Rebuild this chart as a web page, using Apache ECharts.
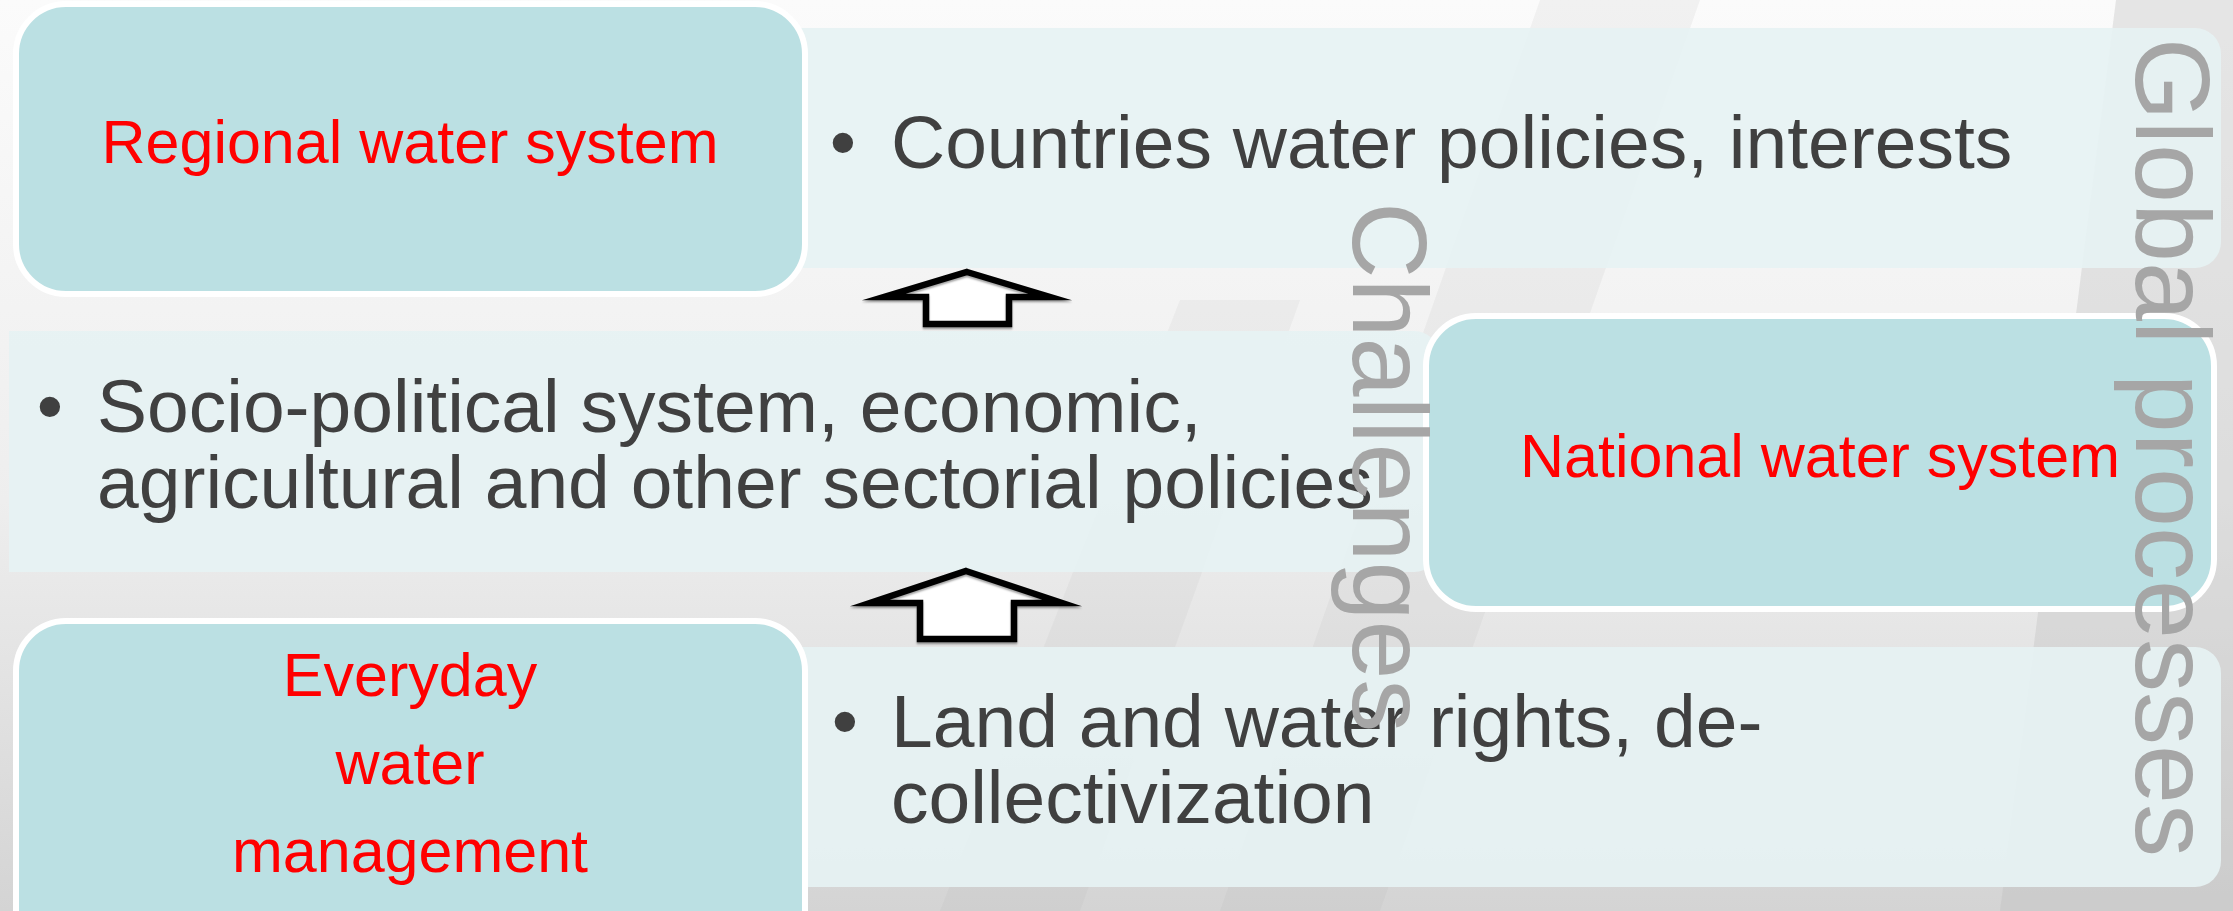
<!DOCTYPE html>
<html>
<head>
<meta charset="utf-8">
<style>
html,body{margin:0;padding:0;background:#fff}
#main{width:2233px;height:911px}
</style>
<script src="https://cdn.jsdelivr.net/npm/echarts@6/dist/echarts.min.js"></script>
</head>
<body>
<div id="main"></div>
<script>
// diagram content
var levelTitles = ['Regional water system', 'National water system', 'Everyday\nwater\nmanagement'];
var levelPoints = ['Countries water policies, interests',
	'Socio-political system, economic,\nagricultural and other sectorial policies',
	'Land and water rights, de-\ncollectivization'];
var sideLabels = ['Challenges', 'Global processes'];

var FONT = '"Liberation Sans", Arial, sans-serif';
var darkFill = '#bbe0e3';
var lightFill = '#e6f2f3';
var pointColor = '#404040';
var titleColor = '#ff0000';
var sideColor = '#a6a6a6';

// box layout: [x, y, w, h]
var lightBoxes = [[700, 28, 1521, 240], [9, 331, 1431, 241], [700, 647, 1521, 240]];
var darkBoxes = [[16, 4, 789, 290], [1426, 316, 788, 293], [16, 621, 789, 340]];
var titlePos = [[410, 146, 88], [1820, 460, 88], [410, 767, 88]];
var pointPos = [[891, 147, 843], [97, 449, 50], [891, 764, 845]];
var bulletY = [147, 411, 726];
var arrows = [
	[[967,272],[1050,297],[1009,297],[1009,324],[926,324],[926,297],[884,297]],
	[[966,571],[1062,603],[1014,603],[1014,639],[920,639],[920,603],[870,603]]
];

var chart = echarts.init(document.getElementById('main'));
var els = [];

// background
els.push({type:'rect', shape:{x:0,y:0,width:2233,height:911}, silent:true,
	style:{fill:new echarts.graphic.LinearGradient(0,0,0,1,[{offset:0,color:'#fbfbfb'},{offset:0.55,color:'#eeeeee'},{offset:1,color:'#d4d4d4'}])}});
els.push({type:'polygon', shape:{points:[[2116,0],[2233,0],[2233,911],[2000,911]]}, silent:true,
	style:{fill:'rgba(190,190,190,0.35)'}});
els.push({type:'polygon', shape:{points:[[1540,0],[1700,0],[1380,911],[1220,911]]}, silent:true,
	style:{fill:'rgba(170,170,170,0.12)'}});
els.push({type:'polygon', shape:{points:[[1180,300],[1300,300],[1080,911],[940,911]]}, silent:true,
	style:{fill:'rgba(170,170,170,0.10)'}});

// light boxes
$each(lightBoxes, function(i, b){
	els.push({type:'rect', shape:{x:b[0],y:b[1],width:b[2],height:b[3],r:[0,26,26,0]}, silent:true,
		style:{fill:lightFill, opacity:0.93}});
});
// dark boxes
$each(darkBoxes, function(i, b){
	els.push({type:'rect', shape:{x:b[0],y:b[1],width:b[2],height:b[3],r:50}, silent:true,
		style:{fill:darkFill, stroke:'#ffffff', lineWidth:6}});
});
// arrows
$each(arrows, function(i, pts){
	els.push({type:'polygon', shape:{points:pts}, silent:true,
		style:{fill:'#ffffff', stroke:'#000000', lineWidth:6.5, lineJoin:'miter', miterLimit:10,
			shadowColor:'rgba(0,0,0,0.35)', shadowOffsetY:2, shadowBlur:2}});
});
// titles
$each(levelTitles, function(i, t){
	var p = titlePos[i];
	els.push({type:'text', x:p[0], y:p[1], silent:true,
		style:{text:t, fill:titleColor, font:'61px ' + FONT, lineHeight:p[2],
			align:'center', verticalAlign:'middle', textAlign:'center', textVerticalAlign:'middle'}});
});
// bullet points
$each(levelPoints, function(i, t){
	var p = pointPos[i];
	els.push({type:'text', x:p[2], y:bulletY[i], silent:true,
		style:{text:'\u2022', fill:pointColor, font:'75px ' + FONT,
			align:'center', verticalAlign:'middle', textAlign:'center', textVerticalAlign:'middle'}});
	els.push({type:'text', x:p[0], y:p[1], silent:true,
		style:{text:t, fill:pointColor, font:'75px ' + FONT, lineHeight:76,
			align:'left', verticalAlign:'middle', textAlign:'left', textVerticalAlign:'middle'}});
});
// vertical side labels
var sidePos = [[1382, 202], [2165, 38]];
$each(sideLabels, function(i, t){
	els.push({type:'text', x:sidePos[i][0], y:sidePos[i][1], rotation:-Math.PI/2, silent:true,
		style:{text:t, fill:sideColor, font:'106px ' + FONT,
			align:'left', verticalAlign:'middle', textAlign:'left', textVerticalAlign:'middle'}});
});

function $each(arr, fn){ for (var i = 0; i < arr.length; i++) fn(i, arr[i]); }

var option = {
	animation: false,
	graphic: { elements: els }
};
chart.setOption(option);
</script>
</body>
</html>
